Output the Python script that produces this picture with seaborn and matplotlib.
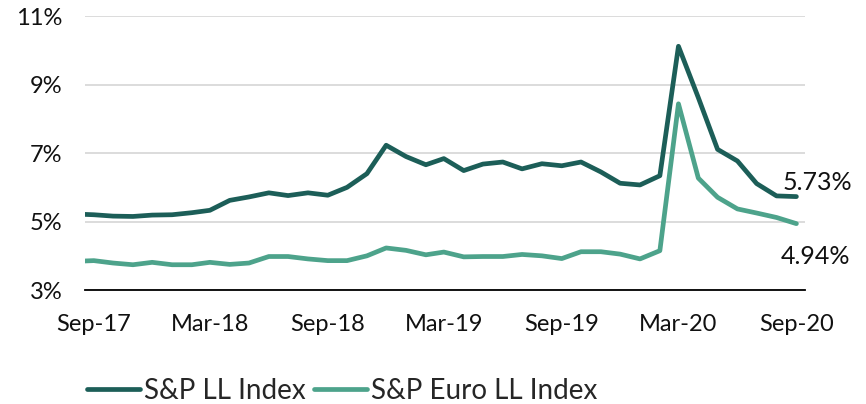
import pandas as pd
import numpy as np
import matplotlib
matplotlib.use("Agg")
import matplotlib.pyplot as plt
import matplotlib.dates as mdates
from matplotlib.ticker import FuncFormatter
import seaborn as sns

# monthly yields, first point sits a little before Sep-17 on the original chart
dates = [pd.Timestamp("2017-08-18")] + list(pd.date_range("2017-09-01", "2020-09-01", freq="MS"))

us_ll = [5.21, 5.20, 5.16, 5.15, 5.19, 5.20, 5.26, 5.33, 5.62, 5.72,
         5.84, 5.76, 5.84, 5.77, 6.00, 6.40, 7.23, 6.90, 6.66, 6.84,
         6.49, 6.68, 6.74, 6.54, 6.69, 6.63, 6.74, 6.45, 6.12, 6.07,
         6.34, 10.12, 8.62, 7.11, 6.77, 6.11, 5.75, 5.73]
euro_ll = [3.85, 3.86, 3.79, 3.74, 3.81, 3.74, 3.74, 3.81, 3.75, 3.79,
           3.98, 3.98, 3.91, 3.86, 3.86, 4.00, 4.23, 4.16, 4.03, 4.11,
           3.97, 3.98, 3.98, 4.04, 4.00, 3.92, 4.12, 4.12, 4.05, 3.91,
           4.15, 8.44, 6.27, 5.71, 5.37, 5.25, 5.12, 4.94]

series_names = ["S&P LL Index", "S&P Euro LL Index"]
colors = ["#1c5e58", "#4da38b"]

df = pd.DataFrame({
    "date": dates * 2,
    "yield": us_ll + euro_ll,
    "index": [series_names[0]] * len(dates) + [series_names[1]] * len(dates),
})

sns.set_theme(style="white")
plt.rcParams["font.family"] = ["Lato", "DejaVu Sans"]

fig = plt.figure(figsize=(8.66, 4.04), dpi=100)
ax = fig.add_axes([0.098, 0.282, 0.832, 0.678])

sns.lineplot(data=df, x="date", y="yield", hue="index", palette=colors,
             linewidth=3.4, ax=ax, legend=True)

ax.set_ylim(3, 11)
ax.set_yticks([3, 5, 7, 9, 11])
ax.yaxis.set_major_formatter(FuncFormatter(lambda v, p: f"{v:.0f}%"))
ax.set_xlim(pd.Timestamp("2017-08-18"), pd.Timestamp("2020-09-15"))
ax.xaxis.set_major_locator(mdates.MonthLocator(bymonth=[3, 9]))
ax.xaxis.set_major_formatter(mdates.DateFormatter("%b-%y"))
ax.grid(axis="y", color="#d9d9d9", linewidth=1.3)
ax.set_axisbelow(True)
for s in ["top", "right", "left"]:
    ax.spines[s].set_visible(False)
ax.spines["bottom"].set_color("black")
ax.spines["bottom"].set_linewidth(1.3)
ax.tick_params(axis="both", labelsize=17, colors="#111111", length=0)
ax.tick_params(axis="y", pad=16)
ax.tick_params(axis="x", pad=17)
ax.set_xlabel("")
ax.set_ylabel("")

# end-of-series labels
ax.annotate(f"{us_ll[-1]:.2f}%", xy=(dates[-1], us_ll[-1]), xytext=(-10, 10),
            textcoords="offset points", fontsize=18, color="#111111", va="center")
ax.annotate(f"{euro_ll[-1]:.2f}%", xy=(dates[-1], euro_ll[-1]), xytext=(-11, -24),
            textcoords="offset points", fontsize=18, color="#111111", va="center")

handles, labels = ax.get_legend_handles_labels()
ax.get_legend().remove()
fig.legend(handles, labels, loc="center", bbox_to_anchor=(0.395, 0.033), ncol=2,
           frameon=False, fontsize=20, handlelength=1.9, columnspacing=0.3,
           handletextpad=0.15)

fig.savefig("out.png", dpi=100)
